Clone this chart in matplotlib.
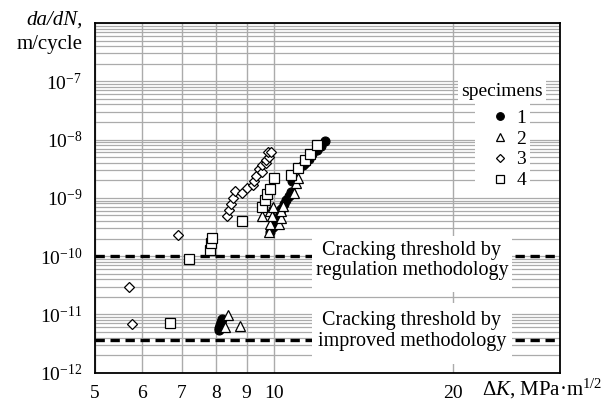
import matplotlib
matplotlib.use('Agg')
import matplotlib.pyplot as plt
import numpy as np
from matplotlib.patches import Rectangle
from matplotlib.ticker import FixedLocator, NullLocator, NullFormatter, FuncFormatter


# Data (dK in MPa*m^1/2, da/dN in m/cycle)
# specimen 1 - filled circles
dk1 = [8.08, 8.10, 8.12, 8.15, 8.18,
       9.86, 9.95, 10.05, 10.15, 10.25, 10.30, 10.40, 10.50, 10.60, 10.70, 10.72,
       11.20, 11.30, 11.45, 11.60, 11.80, 12.00, 12.20]
dadn1 = [5.3e-12, 5.9e-12, 6.6e-12, 7.4e-12, 8.3e-12,
         2.6e-10, 3.2e-10, 3.8e-10, 4.5e-10, 5.5e-10, 6.5e-10, 7.8e-10, 9.2e-10, 1.08e-9, 1.25e-9, 1.95e-9,
         3.6e-9, 4.0e-9, 4.6e-9, 5.6e-9, 6.5e-9, 7.8e-9, 9.3e-9]

# specimen 2 - open triangles
dk2 = [8.27, 8.36, 8.77,
       9.54, 9.82, 9.84, 9.86, 9.93, 9.96, 10.20, 10.27, 10.30, 10.38, 10.80, 10.90, 11.00]
dadn2 = [6.1e-12, 9.7e-12, 6.4e-12,
         4.85e-10, 2.6e-10, 3.6e-10, 6.0e-10, 4.85e-10, 7.0e-10, 3.6e-10, 4.6e-10, 6.0e-10, 7.3e-10, 1.22e-9, 1.8e-9, 2.2e-9]

# specimen 3 - open diamonds
dk3 = [5.72, 5.78, 6.89, 8.33, 8.42, 8.46, 8.54, 8.59, 8.85, 9.02, 9.23,
       9.26, 9.35, 9.44, 9.57, 9.57, 9.69, 9.69, 9.80, 9.77, 9.90]
dadn3 = [2.98e-11, 6.8e-12, 2.27e-10, 4.85e-10, 6.3e-10, 7.8e-10, 9.9e-10, 1.29e-9, 1.22e-9, 1.5e-9, 1.65e-9,
         1.96e-9, 2.4e-9, 3.1e-9, 2.76e-9, 3.6e-9, 3.9e-9, 4.4e-9, 5.0e-9, 6.1e-9, 6.1e-9]

# specimen 4 - open squares
dk4 = [6.69, 7.20, 7.81, 7.83, 7.88, 8.85, 9.57, 9.66, 9.73, 9.86, 10.00,
       10.69, 10.99, 11.26, 11.50, 11.80]
dadn4 = [7.0e-12, 8.8e-11, 1.27e-10, 1.65e-10, 2.03e-10, 4.0e-10, 7.0e-10, 9.1e-10, 1.18e-9, 1.43e-9, 2.2e-9,
         2.5e-9, 3.3e-9, 4.4e-9, 5.6e-9, 8.1e-9]

specimen_labels = ['1', '2', '3', '4']

# cracking thresholds
thr_regulation = 1.0e-10
thr_improved = 3.6e-12

x_ticks = [5, 6, 7, 8, 9, 10, 20]
x_ticklabels = ['5', '6', '7', '8', '9', '10', '20']
y_exponents = [-12, -11, -10, -9, -8, -7, -6]


plt.rcParams['font.family'] = ['Liberation Serif', 'DejaVu Serif']
plt.rcParams['mathtext.fontset'] = 'custom'
plt.rcParams['mathtext.rm'] = 'Liberation Serif'
plt.rcParams['mathtext.it'] = 'Liberation Serif:italic'

W, H = 614, 409
def fx(px):
    return px / W
def fy(py):
    return 1 - py / H

fig = plt.figure(figsize=(W / 100, H / 100), dpi=100)
ax = fig.add_axes([fx(94.7), fy(372.7), fx(559.5) - fx(94.7), fy(23) - fy(372.7)])

ax.set_xscale('log')
ax.set_yscale('log')
ax.set_xlim(5, 30.2)
ax.set_ylim(1e-12, 1e-6)

# grid
ax.set_xticks(x_ticks)
ax.set_xticklabels(x_ticklabels)
ax.xaxis.set_minor_locator(NullLocator())
major_y = [10.0 ** e for e in y_exponents]
minor_y = [m * 10.0 ** e for e in y_exponents[:-1] for m in range(2, 10)]
ax.yaxis.set_major_locator(FixedLocator(major_y))
ax.yaxis.set_minor_locator(FixedLocator(minor_y))
ax.yaxis.set_minor_formatter(NullFormatter())
ax.yaxis.set_major_formatter(FuncFormatter(
    lambda v, pos: r'$10^{%d}$' % round(np.log10(v)) if v < 5e-7 else ''))
ax.set_axisbelow(True)
ax.grid(True, which='both', axis='y', color='#ababab', lw=0.9)
ax.grid(True, which='major', axis='x', color='#ababab', lw=1.0)
ax.tick_params(which='both', length=0, labelsize=14, pad=9)
for s in ax.spines.values():
    s.set_linewidth(1.3)
    s.set_color('black')

# thresholds
ax.axhline(thr_regulation, color='black', lw=2.4, ls=(0, (2.8, 1.7)), zorder=1)
ax.axhline(thr_improved, color='black', lw=2.4, ls=(0, (2.8, 1.7)), zorder=1)

# white boxes behind texts / legend
def white_box(x0, y0, x1, y1):
    r = Rectangle((fx(x0), fy(y1)), fx(x1) - fx(x0), fy(y0) - fy(y1),
                  transform=fig.transFigure, fc='white', ec='none', zorder=1.5)
    ax.add_patch(r)

white_box(312, 236, 512, 292)
white_box(312, 303, 512, 364)
white_box(458, 79, 546, 101)
white_box(475, 101, 530, 190)

ax.text(fx(412), fy(255), 'Cracking threshold by', transform=fig.transFigure,
        ha='center', va='baseline', fontsize=14.5, zorder=4)
ax.text(fx(412), fy(275), 'regulation methodology', transform=fig.transFigure,
        ha='center', va='baseline', fontsize=14.5, zorder=4)
ax.text(fx(412), fy(325), 'Cracking threshold by', transform=fig.transFigure,
        ha='center', va='baseline', fontsize=14.5, zorder=4)
ax.text(fx(412), fy(346), 'improved methodology', transform=fig.transFigure,
        ha='center', va='baseline', fontsize=14.5, zorder=4)

# data
h1, = ax.plot(dk1, dadn1, ls='none', marker='o', ms=6.5, mfc='black', mec='black', mew=0.8, zorder=3)
h2, = ax.plot(dk2, dadn2, ls='none', marker='^', ms=7.5, mfc='white', mec='black', mew=0.9, zorder=3)
h3, = ax.plot(dk3, dadn3, ls='none', marker='D', ms=5.3, mfc='white', mec='black', mew=0.9, zorder=3)
h4, = ax.plot(dk4, dadn4, ls='none', marker='s', ms=7, mfc='white', mec='black', mew=0.9, zorder=3)

leg = ax.legend([h1, h2, h3, h4], specimen_labels, loc='upper left',
                bbox_to_anchor=(fx(490), fy(109)), bbox_transform=fig.transFigure,
                frameon=False, fontsize=14, handlelength=1.0, handletextpad=0.35,
                labelspacing=0.17, borderpad=0, borderaxespad=0, markerscale=0.85)
leg.set_zorder(5)
fig.text(fx(543), fy(91), 'specimens', ha='right', va='center', fontsize=14)

# axis labels
fig.text(fx(83), fy(20), 'da/dN,', ha='right', va='center', fontsize=15, style='italic')
fig.text(fx(83), fy(45), 'm/cycle', ha='right', va='center', fontsize=15)
fig.text(fx(482), fy(389), r'$\mathit{ΔK}$, MPa·m$^{1/2}$', ha='left', va='center', fontsize=15)

fig.savefig('out.png', dpi=100)
